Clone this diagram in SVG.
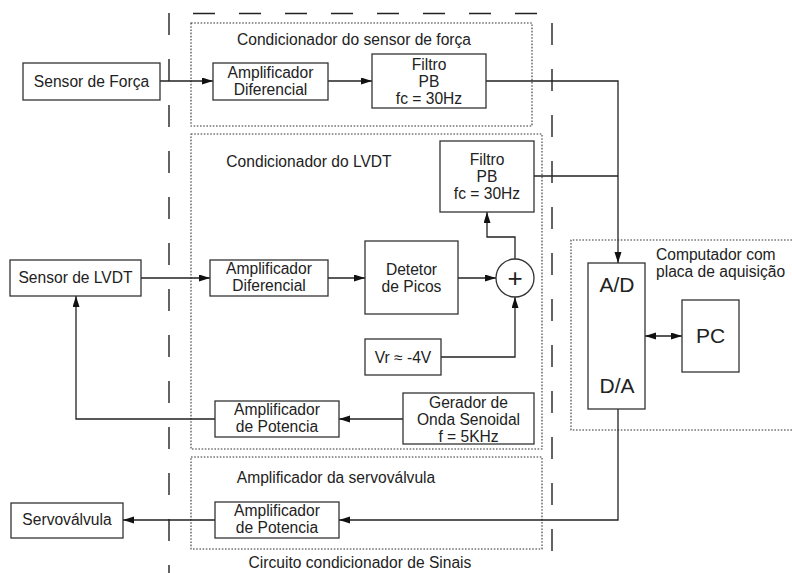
<svg xmlns="http://www.w3.org/2000/svg" width="792" height="573" viewBox="0 0 792 573">
<defs>
<style>
text{font-family:"Liberation Sans",Arial,sans-serif;font-size:15.6px;fill:#222;}
.c{text-anchor:middle}
.box{fill:#fff;stroke:#333;stroke-width:1.3}
.dot{fill:none;stroke:#333;stroke-width:1.1;stroke-dasharray:1.6 1.6}
.dash{fill:none;stroke:#222;stroke-width:1.4;stroke-dasharray:22 24}
.w{fill:none;stroke:#222;stroke-width:1.3}
.big{font-size:21px}
</style>
<marker id="ah" markerUnits="userSpaceOnUse" markerWidth="12" markerHeight="8" refX="11" refY="3.5" orient="auto-start-reverse"><path d="M0,0 L11,3.5 L0,7 z" fill="#111"/></marker>
</defs>
<rect width="792" height="573" fill="#fff"/>
<g id="frame">
<line class="dash" x1="169" y1="13" x2="169" y2="573"/>
<line class="dash" x1="193" y1="13.5" x2="540" y2="13.5"/>
<line class="dash" x1="552" y1="23" x2="552" y2="552"/>
<text class="c" x="360" y="568">Circuito condicionador de Sinais</text>
</g>
<g id="grp-forca">
<rect class="dot" x="191" y="23" width="341" height="103"/>
<text class="c" x="354" y="45">Condicionador do sensor de força</text>
</g>
<g id="grp-lvdt">
<rect class="dot" x="191" y="134" width="351" height="315"/>
<text class="c" x="309" y="167">Condicionador do LVDT</text>
</g>
<g id="grp-servo">
<rect class="dot" x="191" y="457" width="351" height="92"/>
<text class="c" x="336" y="483">Amplificador da servoválvula</text>
</g>
<g id="grp-pc">
<path class="dot" d="M792,240 H571 V430 H792"/>
<text x="656" y="260">Computador com</text>
<text x="656" y="277">placa de aquisição</text>
</g>
<g id="connectors">
<line class="w" x1="160" y1="81" x2="213" y2="81" marker-end="url(#ah)"/>
<line class="w" x1="328" y1="81" x2="372" y2="81" marker-end="url(#ah)"/>
<path class="w" d="M486,81 H618 V263" marker-end="url(#ah)"/>
<path class="w" d="M534,176 H618"/>
<line class="w" x1="141" y1="278" x2="210" y2="278" marker-end="url(#ah)"/>
<line class="w" x1="328" y1="278" x2="365" y2="278" marker-end="url(#ah)"/>
<line class="w" x1="458" y1="278" x2="496" y2="278" marker-end="url(#ah)"/>
<path class="w" d="M515,259 V237 H487 V212" marker-end="url(#ah)"/>
<path class="w" d="M441,357 H515 V297" marker-end="url(#ah)"/>
<line class="w" x1="403" y1="419" x2="339" y2="419" marker-end="url(#ah)"/>
<path class="w" d="M215,419 H76 V296" marker-end="url(#ah)"/>
<line class="w" x1="645" y1="336" x2="682" y2="336" marker-start="url(#ah)" marker-end="url(#ah)"/>
<path class="w" d="M618,409 V520 H339" marker-end="url(#ah)"/>
<line class="w" x1="215" y1="520" x2="123" y2="520" marker-end="url(#ah)"/>
</g>
<g id="sensor-forca">
<rect class="box" x="23" y="63" width="137" height="37"/>
<text class="c" x="91.5" y="87">Sensor de Força</text>
</g>
<g id="amp-dif-1">
<rect class="box" x="213" y="63" width="115" height="37"/>
<text class="c" x="270.5" y="78">Amplificador</text>
<text class="c" x="270.5" y="95">Diferencial</text>
</g>
<g id="filtro-1">
<rect class="box" x="372" y="54" width="114" height="54"/>
<text class="c" x="429" y="70">Filtro</text>
<text class="c" x="429" y="87">PB</text>
<text class="c" x="429" y="104">fc = 30Hz</text>
</g>
<g id="filtro-2">
<rect class="box" x="440" y="141" width="94" height="71"/>
<text class="c" x="487" y="165">Filtro</text>
<text class="c" x="487" y="182">PB</text>
<text class="c" x="487" y="199">fc = 30Hz</text>
</g>
<g id="sensor-lvdt">
<rect class="box" x="10" y="260" width="131" height="36"/>
<text class="c" x="75.5" y="283">Sensor de LVDT</text>
</g>
<g id="amp-dif-2">
<rect class="box" x="210" y="260" width="118" height="36"/>
<text class="c" x="269" y="274">Amplificador</text>
<text class="c" x="269" y="291">Diferencial</text>
</g>
<g id="detetor">
<rect class="box" x="365" y="241" width="93" height="73"/>
<text class="c" x="411.5" y="275">Detetor</text>
<text class="c" x="411.5" y="292">de Picos</text>
</g>
<g id="somador">
<circle cx="515" cy="278" r="19" fill="#fff" stroke="#333" stroke-width="1.3"/>
<text class="c" x="515" y="287" style="font-size:26px">+</text>
</g>
<g id="vr">
<rect class="box" x="365" y="339" width="76" height="36"/>
<text class="c" x="403" y="363">Vr ≈ -4V</text>
</g>
<g id="gerador">
<rect class="box" x="403" y="393" width="131" height="51"/>
<text class="c" x="468.5" y="408">Gerador de</text>
<text class="c" x="468.5" y="425">Onda Senoidal</text>
<text class="c" x="468.5" y="442">f = 5KHz</text>
</g>
<g id="amp-pot-1">
<rect class="box" x="215" y="401" width="124" height="36"/>
<text class="c" x="277" y="415">Amplificador</text>
<text class="c" x="277" y="432">de Potencia</text>
</g>
<g id="amp-pot-2">
<rect class="box" x="215" y="502" width="124" height="36"/>
<text class="c" x="277" y="516">Amplificador</text>
<text class="c" x="277" y="533">de Potencia</text>
</g>
<g id="servovalvula">
<rect class="box" x="11" y="503" width="112" height="35"/>
<text class="c" x="67" y="525">Servoválvula</text>
</g>
<g id="ad-da">
<rect class="box" x="588" y="263" width="57" height="146"/>
<text class="c big" x="617" y="292">A/D</text>
<text class="c big" x="617" y="393">D/A</text>
</g>
<g id="pc">
<rect class="box" x="682" y="300" width="57" height="72"/>
<text class="c big" x="710.5" y="343">PC</text>
</g>
</svg>
